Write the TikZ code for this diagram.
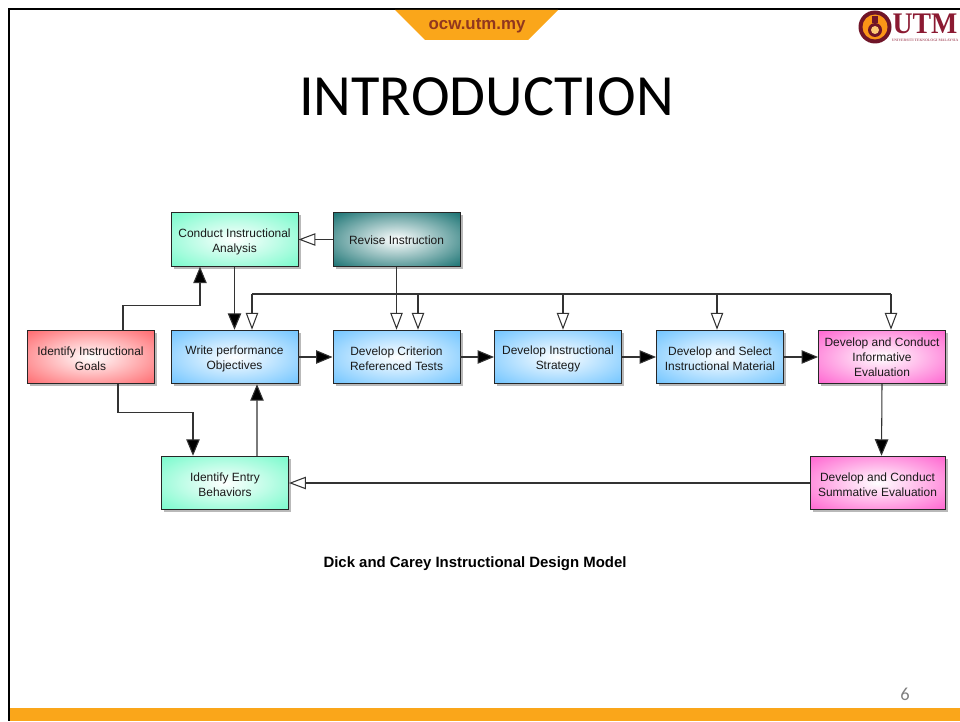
\documentclass[tikz,border=0pt]{standalone}
\usepackage{fontspec}
\setmainfont{Liberation Sans}
\newfontfamily\slidefont{Carlito}
\newfontfamily\logofont{Liberation Serif}
\usetikzlibrary{arrows.meta,shadows}
\definecolor{O}{RGB}{250, 166, 26}
\definecolor{M}{RGB}{139, 26, 50}
\definecolor{W}{RGB}{145, 55, 30}
\definecolor{Bx}{RGB}{102, 192, 255}
\definecolor{Gx}{RGB}{110, 250, 200}
\definecolor{Rx}{RGB}{255, 95, 100}
\definecolor{Px}{RGB}{255, 90, 205}
\definecolor{Tx}{RGB}{10, 105, 105}
\pgfdeclareradialshading{glowblue}{\pgfpoint{0bp}{0bp}}{color(0bp)=(white); color(38bp)=(Bx); color(50bp)=(Bx)}
\pgfdeclareradialshading{glowgreen}{\pgfpoint{0bp}{0bp}}{color(0bp)=(white); color(38bp)=(Gx); color(50bp)=(Gx)}
\pgfdeclareradialshading{glowred}{\pgfpoint{0bp}{0bp}}{color(0bp)=(white); color(38bp)=(Rx); color(50bp)=(Rx)}
\pgfdeclareradialshading{glowpink}{\pgfpoint{0bp}{0bp}}{color(0bp)=(white); color(38bp)=(Px); color(50bp)=(Px)}
\pgfdeclareradialshading{glowteal}{\pgfpoint{0bp}{0bp}}{color(0bp)=(white); color(38bp)=(Tx); color(50bp)=(Tx)}
\tikzset{
	box/.style={draw=black!85, line width=0.55pt, minimum width=2.54cm, minimum height=1.07cm,
		inner sep=0pt, align=center, font=\fontsize{6.8}{8.5}\selectfont, text=black!90,
		drop shadow={shadow xshift=0.05cm, shadow yshift=-0.05cm, fill=black!55}},
	twolines/.style={text height=15.8pt},
	bluebox/.style={box, twolines, shading=glowblue},
	greenbox/.style={box, twolines, shading=glowgreen},
	redbox/.style={box, twolines, shading=glowred},
	pinkbox/.style={box, shading=glowpink},
	tealbox/.style={box, text height=6.2pt, shading=glowteal},
	solid/.style={draw=black!80, line width=0.6pt, -{Triangle[length=0.33cm, width=0.27cm, fill=black]}},
	hollow/.style={draw=black!80, line width=0.6pt, -{Triangle[open, length=0.34cm, width=0.25cm, fill=white]}}
}
\begin{document}
\begin{tikzpicture}
	\useasboundingbox (0,0) rectangle (19.2,14.42);

	%Marco de la pagina
	\fill[color=O] (0.18,0) rectangle (19.2,0.26);
	\fill[color=black] (0.16,0) rectangle (0.2,14.26);
	\fill[color=black] (0.16,14.22) rectangle (19.2,14.26);

	%Pestana superior
	\fill[color=O] (7.9,14.22) -- (11.16,14.22) -- (10.56,13.62) -- (8.5,13.62) -- cycle;
	\node[text=W, font=\bfseries\fontsize{9.6}{11}\selectfont] (tab) at (9.54,13.9) {ocw.utm.my};

	%Logo
	\fill[color=M!80!black] (17.5,13.88) circle (0.33);
	\fill[color=O!90!red] (17.5,13.88) circle (0.25);
	\fill[color=M!80!black] (17.5,13.82) circle (0.14);
	\fill[color=O!60!white] (17.5,13.82) circle (0.08);
	\fill[color=M!80!black] (17.44,13.96) rectangle (17.56,14.1);
	\node[text=M, inner sep=0pt, font=\logofont\bfseries\fontsize{17}{17}\selectfont, xscale=0.93] (utm) at (18.5,13.95) {UTM};
	\node[text=M!70, inner sep=0pt, font=\logofont\bfseries\fontsize{2.1}{2}\selectfont] (utmname) at (18.5,13.62) {UNIVERSITI TEKNOLOGI MALAYSIA};

	%Titulo
	\node[font=\slidefont\fontsize{33.2}{40}\selectfont] (title) at (9.73,12.49) {INTRODUCTION};

	%Cajas
	\node[greenbox] (conduct) at (4.69,9.63) {Conduct Instructional\\Analysis};
	\node[tealbox] (revise) at (7.93,9.63) {Revise Instruction};
	\node[redbox] (goals) at (1.81,7.28) {Identify Instructional\\Goals};
	\node[bluebox] (write) at (4.69,7.28) {Write performance\\Objectives};
	\node[bluebox] (criterion) at (7.93,7.28) {Develop Criterion\\Referenced Tests};
	\node[bluebox] (strategy) at (11.16,7.28) {Develop Instructional\\Strategy};
	\node[bluebox] (material) at (14.4,7.28) {Develop and Select\\Instructional Material};
	\node[pinkbox] (informative) at (17.64,7.28) {Develop and Conduct\\Informative\\Evaluation};
	\node[greenbox] (entry) at (4.5,4.76) {Identify Entry\\Behaviors};
	\node[pinkbox, twolines, minimum width=2.7cm] (summative) at (17.55,4.76) {Develop and Conduct\\Summative Evaluation};

	%Fila central
	\draw[solid] (write) -- (criterion);
	\draw[solid] (criterion) -- (strategy);
	\draw[solid] (strategy) -- (material);
	\draw[solid] (material) -- (informative);

	%Flechas negras
	\draw[solid] (conduct) -- (write);
	\draw[solid] ([xshift=0.65cm]goals.north) -- ++(0,0.48) -| ([xshift=-0.69cm]conduct.south);
	\draw[solid] ([xshift=0.55cm]goals.south) -- ++(0,-0.56) -| ([xshift=-0.64cm]entry.north);
	\draw[solid] ([xshift=0.64cm]entry.north) -- ([xshift=0.45cm]write.south);
	\draw[solid] (informative.south) -- ([xshift=0.08cm]summative.north);

	%Flechas blancas
	\draw[hollow] (revise) -- (conduct);
	\draw[hollow] (revise) -- (criterion);
	\draw[hollow] (summative) -- (entry);

	%Linea superior
	\coordinate (busa) at (5.04,8.54);
	\coordinate (busb) at (8.36,8.54);
	\coordinate (busc) at (11.26,8.54);
	\coordinate (busd) at (14.34,8.54);
	\coordinate (buse) at (17.82,8.54);
	\draw[draw=black!80, line width=0.6pt] (busa) -- (buse);
	\draw[hollow] (busa) -- (busa |- write.north);
	\draw[hollow] (busb) -- (busb |- criterion.north);
	\draw[hollow] (busc) -- (busc |- strategy.north);
	\draw[hollow] (busd) -- (busd |- material.north);
	\draw[hollow] (buse) -- (buse |- informative.north);

	%Pie
	\node[font=\bfseries\fontsize{8.5}{10}\selectfont] (caption) at (9.5,3.14) {Dick and Carey Instructional Design Model};
	\node[text=black!50, font=\slidefont\fontsize{10.5}{12}\selectfont] (page) at (18.1,0.54) {6};
\end{tikzpicture}
\end{document}
